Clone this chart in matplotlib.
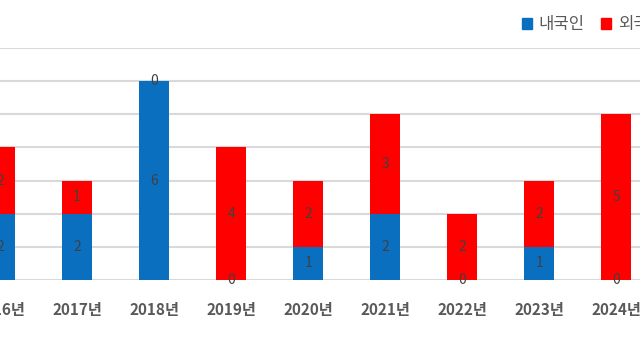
import matplotlib
matplotlib.use("Agg")
import matplotlib.pyplot as plt
from matplotlib.patches import Patch
import numpy as np

plt.rcParams['font.family'] = ['Noto Sans CJK KR', 'DejaVu Sans']

# 데이터
years = ["2016년", "2017년", "2018년", "2019년", "2020년", "2021년", "2022년", "2023년", "2024년"]
domestic = [2, 2, 6, 0, 1, 2, 0, 1, 0]   # 내국인
foreign = [2, 1, 0, 4, 2, 3, 2, 2, 5]    # 외국인

blue = "#0B6FC0"
red = "#FF0000"
txt = "#404040"

fig = plt.figure(figsize=(6.4, 3.6), dpi=100)
ax = fig.add_axes([0, 80 / 360, 1, 232 / 360])

x = np.arange(len(years))
w = 0.385
b1 = ax.bar(x, domestic, w, color=blue, zorder=3)
b2 = ax.bar(x, foreign, w, bottom=domestic, color=red, zorder=3)

# 막대 안 숫자
for i in range(len(years)):
    ax.text(x[i], domestic[i] / 2, str(domestic[i]), ha="center", va="center",
            fontsize=10, color=txt, zorder=4)
    ax.text(x[i], domestic[i] + foreign[i] / 2, str(foreign[i]), ha="center", va="center",
            fontsize=10, color=txt, zorder=4)

ax.set_xlim(0.103, 8.308)
ax.set_ylim(0, 7)
ax.set_yticks(range(0, 8))
ax.yaxis.grid(True, color="#D9D9D9", linewidth=1.5, zorder=0)
ax.tick_params(axis="y", left=False, labelleft=False)
ax.tick_params(axis="x", length=0, pad=16)
ax.set_xticks(x)
ax.set_xticklabels(years, fontsize=11, fontweight="bold", color="#595959")
for s in ax.spines.values():
    s.set_visible(False)

handles = [Patch(color=blue, label="내국인"), Patch(color=red, label="외국인")]
fig.legend(handles=handles, loc="center left", bbox_to_anchor=(522 / 640, 1 - 25 / 360),
           ncol=2, frameon=False, fontsize=12, handlelength=0.6, handleheight=0.6,
           handletextpad=0.4, columnspacing=1.0, borderpad=0, borderaxespad=0,
           labelcolor="#595959")

fig.savefig("out.png", dpi=100)
